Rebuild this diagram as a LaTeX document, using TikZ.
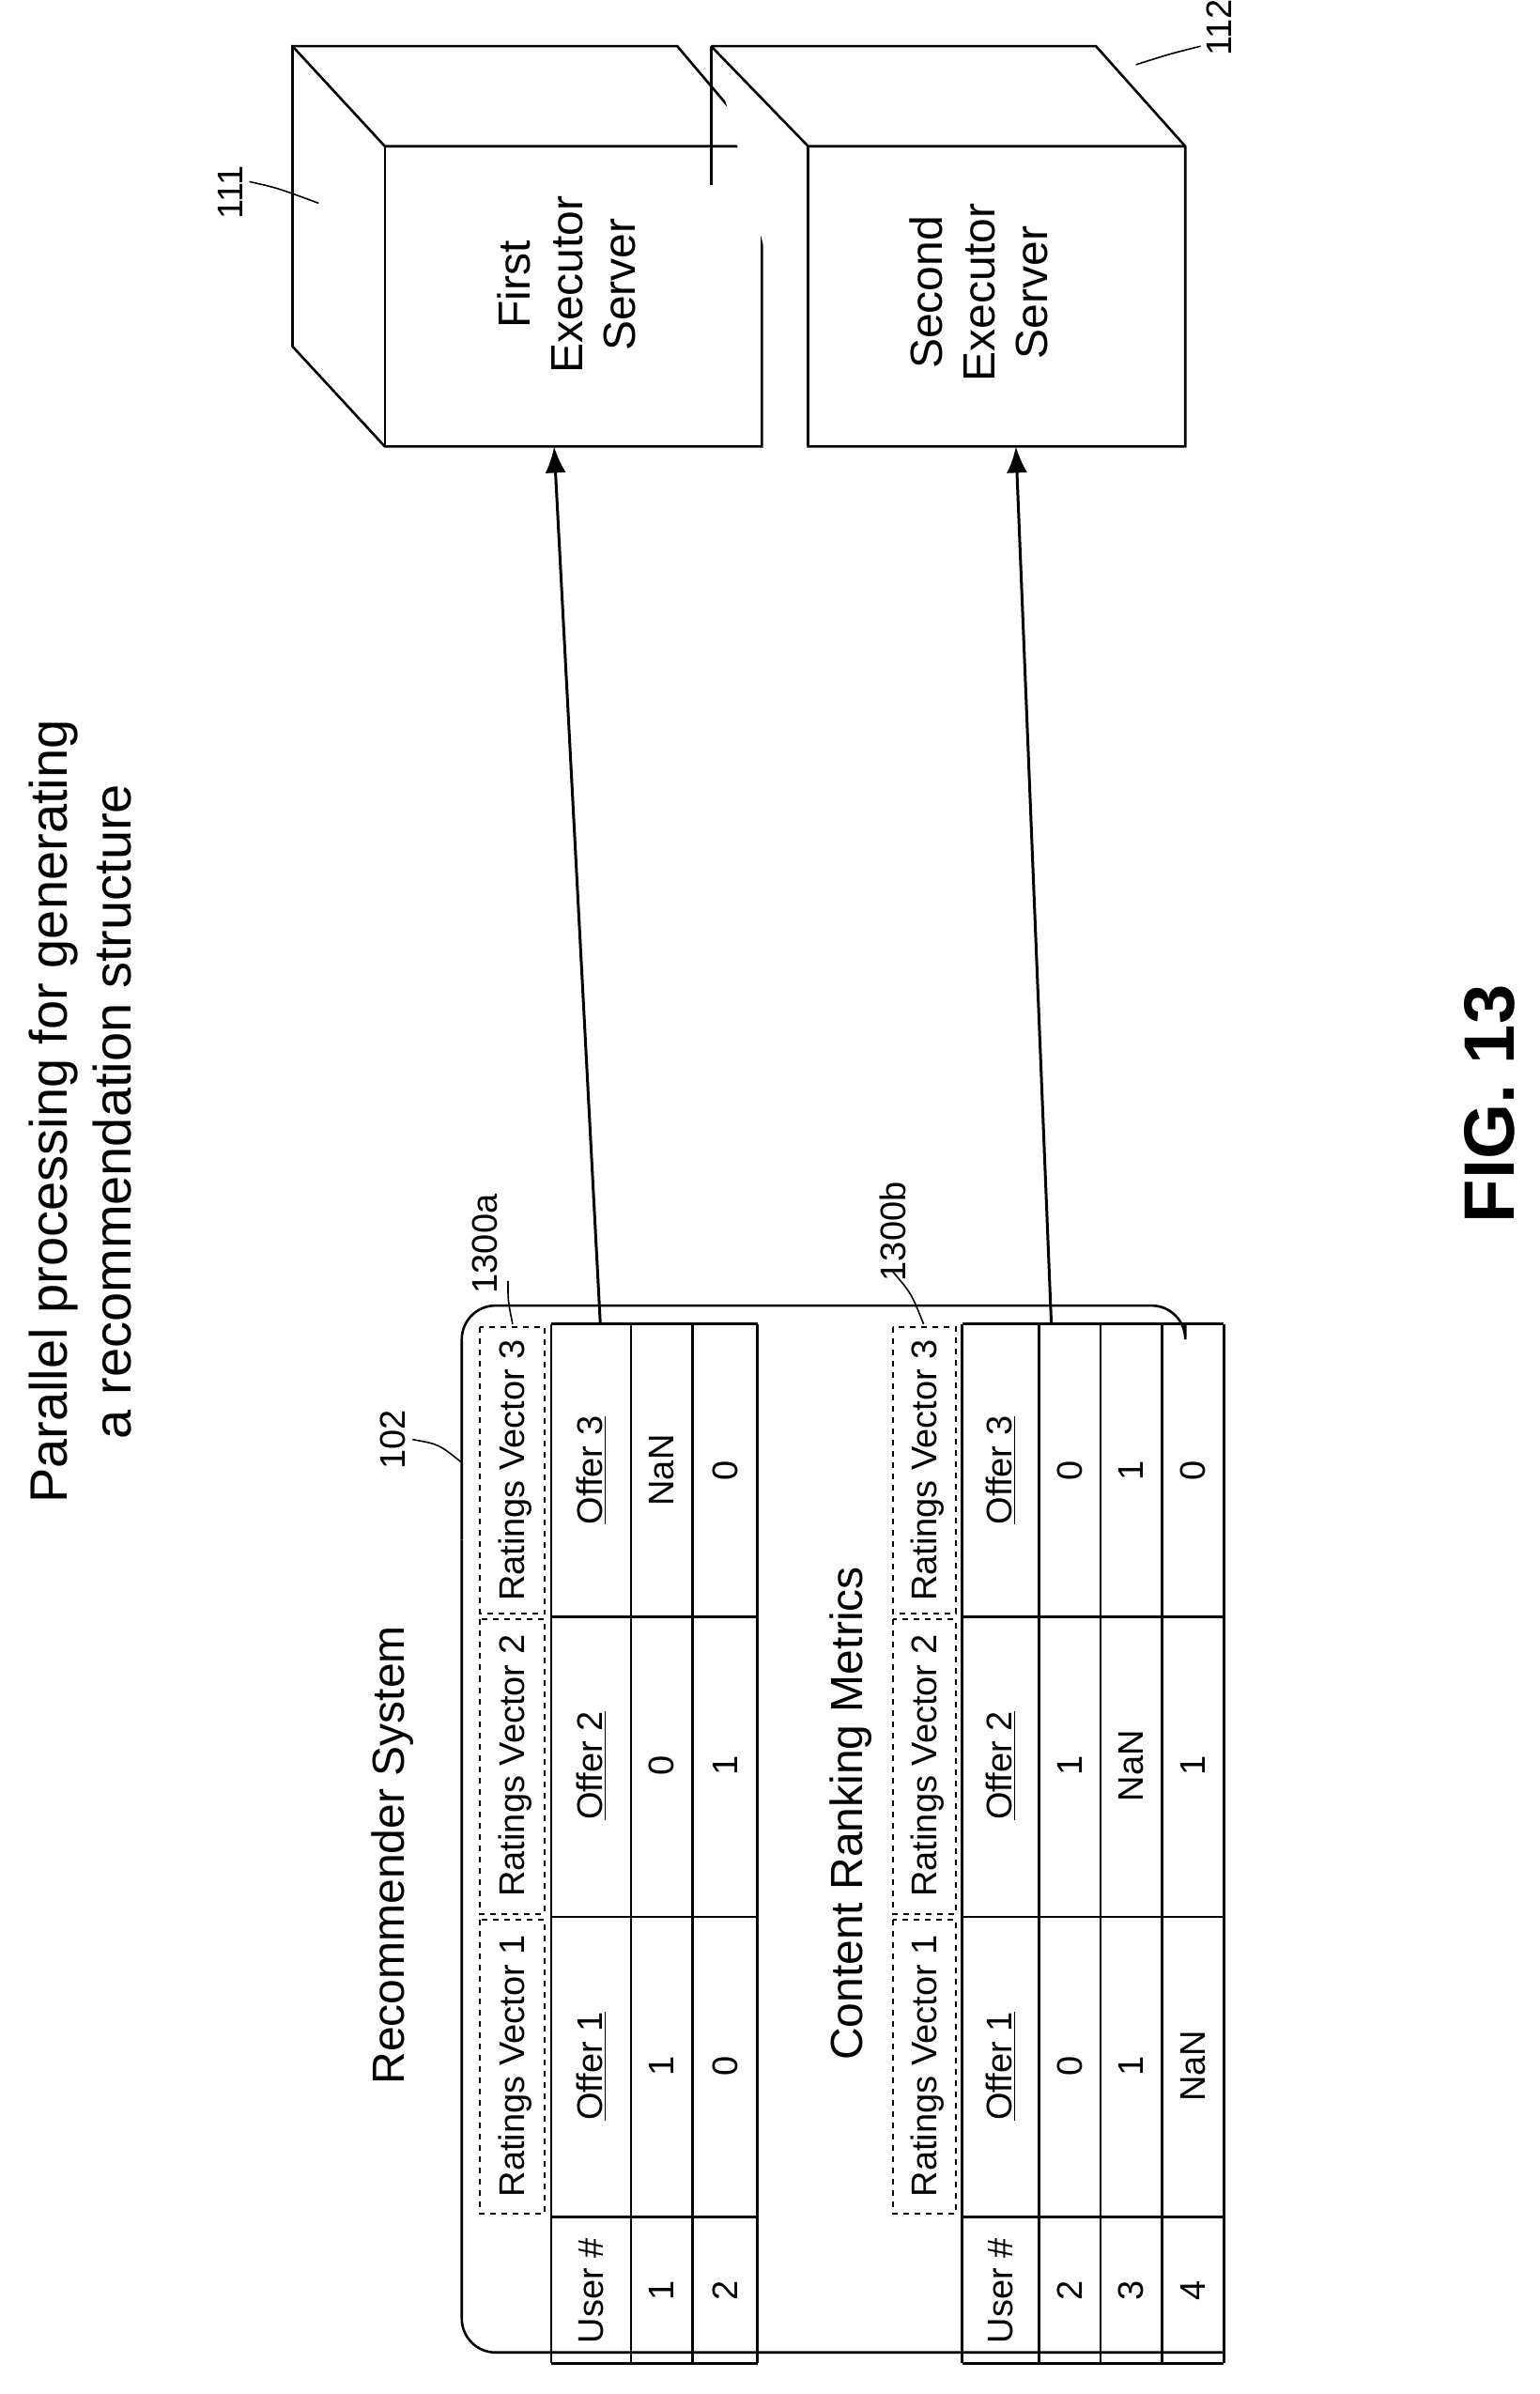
\documentclass[tikz,border=0pt]{standalone}
\usepackage{fontspec}
\setmainfont{Liberation Sans}
\usetikzlibrary{arrows.meta}
\begin{document}
\begin{tikzpicture}[x=0.8195pt,y=-0.8195pt,line width=1.3pt,
  rt/.style={rotate=90,inner sep=0pt,font=\fontsize{19}{22}\selectfont},
  dsh/.style={dashed,line width=1pt},
  arr/.style={line width=1.5pt,-{Latex[length=14pt,width=11pt]}}]
\useasboundingbox (0,0) rectangle (1000,1555);
% title
\node[rt,font=\fontsize{28}{34}\selectfont,align=center] (title) at (52,722) {Parallel processing for generating\\a recommendation structure};
\node[rt,font=\fontsize{38}{44}\selectfont\bfseries] (fig) at (968,717) {FIG. 13};
% servers
\draw[fill=white] (190,30) -- (440,30) -- (495,95) -- (495,290) -- (250,290) -- (190,225) -- cycle;
\draw (190,30) -- (250,95) -- (495,95); \draw (250,95) -- (250,290);
\draw[fill=white] (462,30) -- (712,30) -- (770,95) -- (770,290) -- (525,290) -- (525,270) ;
\draw (462,30) -- (462,120);
\draw (462,30) -- (525,95) -- (770,95); \draw (525,95) -- (525,290);
\node[rt,align=center,font=\fontsize{24}{28}\selectfont] (s1) at (368,185) {First\\Executor\\Server};
\node[rt,align=center,font=\fontsize{24}{28}\selectfont] (s2) at (636,190) {Second\\Executor\\Server};
\node[rt] (l111) at (150,125) {111};
\draw[line width=0.8pt] (162,118) .. controls (180,122) .. (207,132);
\node[rt] (l112) at (792,18) {112};
\draw[line width=0.8pt] (780,30) .. controls (760,35) .. (738,42);
% outer box
\draw[rounded corners=18pt] (300,1000) -- (300,1528) -- (795,1528);
\draw[rounded corners=18pt] (300,1000) -- (300,848) -- (770,848) -- (770,860);
\node[rt,font=\fontsize{24}{28}\selectfont] (rs) at (255,1205) {Recommender System};
\node[rt] (l102) at (255,935) {102};
\draw[line width=0.8pt] (268,935) .. controls (285,938) .. (300,950);
\node[rt,font=\fontsize{24}{28}\selectfont] (crm) at (553,1178) {Content Ranking Metrics};
% tables
\newcommand{\tbl}[5]{%
 \foreach \yy in {860,1050,1245,1440,1535} \draw (#1,\yy) -- (#3,\yy);
 \draw (#1,860) -- (#1,1535);
 \draw (#3,860) -- (#3,1535);
 \foreach \xx in {#5} \draw (\xx,860) -- (\xx,1535);
 \draw[dsh] (#4,862) rectangle (#1-4,1048);
 \draw[dsh] (#4,1052) rectangle (#1-4,1243);
 \draw[dsh] (#4,1247) rectangle (#1-4,1438);
 \node[rt] at ({(#4+#1)/2},1342) {Ratings Vector 1};
 \node[rt] at ({(#4+#1)/2},1147) {Ratings Vector 2};
 \node[rt] at ({(#4+#1)/2},955) {Ratings Vector 3};
 \node[rt] at ({(#1+#2)/2},1488) {User \#};
 \node[rt] at ({(#1+#2)/2},1342) {\underline{Offer 1}};
 \node[rt] at ({(#1+#2)/2},1147) {\underline{Offer 2}};
 \node[rt] at ({(#1+#2)/2},955) {\underline{Offer 3}};
}
\tbl{358}{410}{492}{312}{410,450}
\foreach \x/\a/\b/\c/\d in {430/1/1/0/NaN,471/2/0/1/0}{
 \node[rt] at (\x,1488) {\a}; \node[rt] at (\x,1342) {\b};
 \node[rt] at (\x,1147) {\c}; \node[rt] at (\x,955) {\d};}
\tbl{625}{675}{795}{580}{675,715,755}
\foreach \x/\a/\b/\c/\d in {695/2/0/1/0,735/3/1/NaN/1,775/4/NaN/1/0}{
 \node[rt] at (\x,1488) {\a}; \node[rt] at (\x,1342) {\b};
 \node[rt] at (\x,1147) {\c}; \node[rt] at (\x,955) {\d};}
\node[rt] (la) at (315,808) {1300a};
\draw[line width=0.8pt] (330,832) .. controls (330,845) .. (333,860);
\node[rt] (lb) at (580,800) {1300b};
\draw[line width=0.8pt] (580,826) .. controls (592,840) .. (600,860);
% arrows
\coordinate (a1) at (390,860); \coordinate (t1) at (360,290);
\coordinate (a2) at (683,860); \coordinate (t2) at (660,290);
\draw[arr] (a1) -- (t1);
\draw[arr] (a2) -- (t2);
\end{tikzpicture}
\end{document}
